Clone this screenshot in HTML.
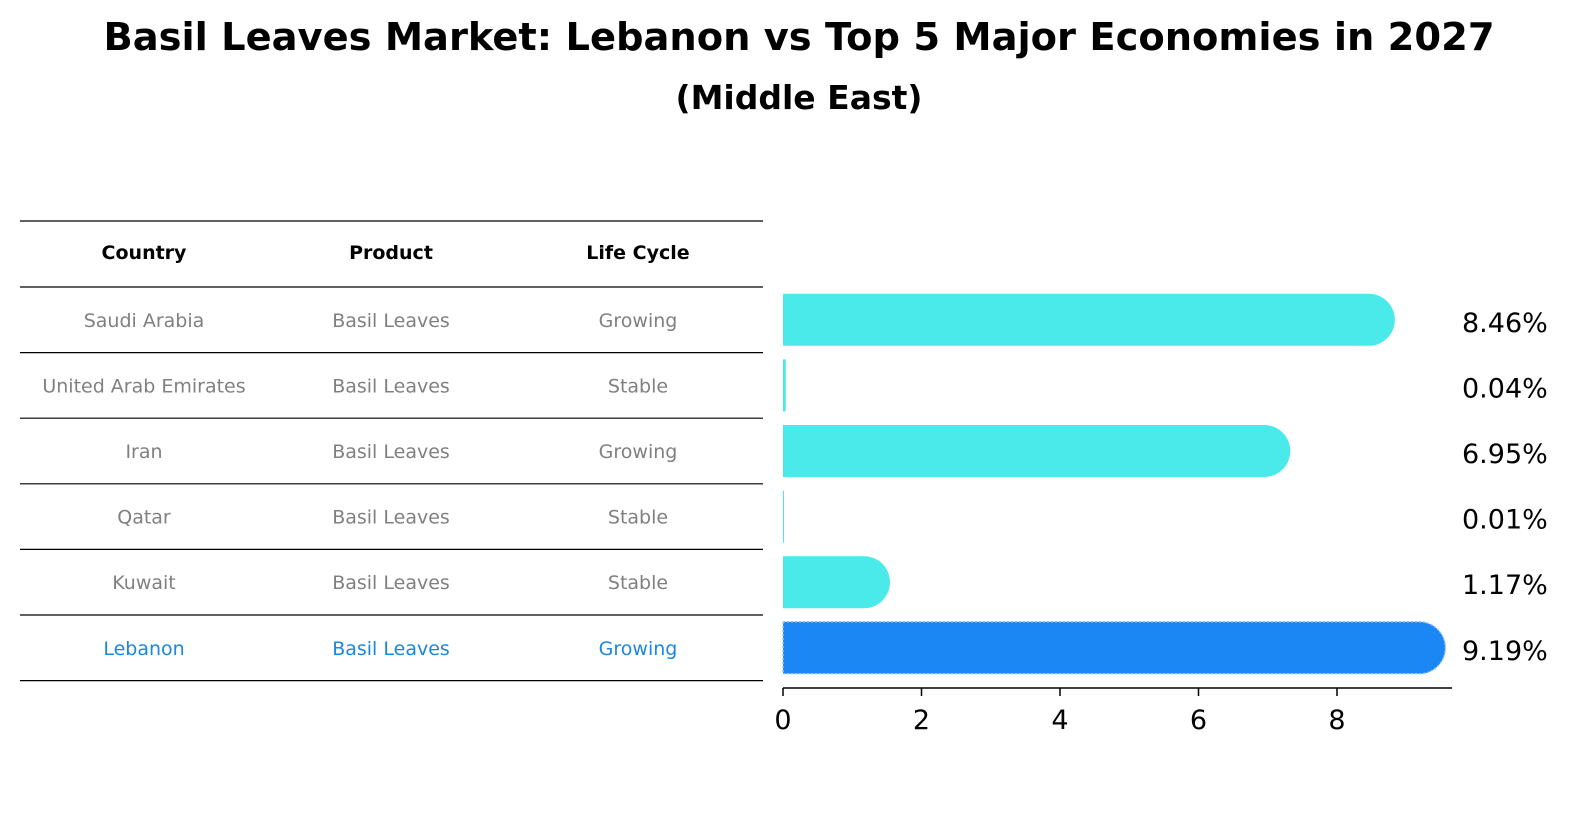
<!DOCTYPE html>
<html><head><meta charset="utf-8"><style>
body{margin:0;background:#fff;font-family:"Liberation Sans","DejaVu Sans",sans-serif;}
#wrap{position:relative;width:1586px;height:823px;overflow:hidden;}
.t{position:absolute;left:0;width:1598px;text-align:center;font-weight:bold;color:#000;}
</style></head><body>
<div id="wrap">
<div class="t" style="top:15px;font-size:38.4px;font-family:'DejaVu Sans',sans-serif;">Basil Leaves Market: Lebanon vs Top 5 Major Economies in 2027</div>
<div class="t" style="top:78px;font-size:33px;font-family:'DejaVu Sans',sans-serif;">(Middle East)</div>
<svg id="svg" width="1586" height="823" style="position:absolute;left:0;top:0"></svg>
</div>
<script>
const countries=["Saudi Arabia","United Arab Emirates","Iran","Qatar","Kuwait","Lebanon"];
const products=["Basil Leaves","Basil Leaves","Basil Leaves","Basil Leaves","Basil Leaves","Basil Leaves"];
const lifeCycles=["Growing","Stable","Growing","Stable","Stable","Growing"];
const values=[8.46,0.04,6.95,0.01,1.17,9.19];
const ticks=[0,2,4,6,8];
const NS="http://www.w3.org/2000/svg";
const svg=document.getElementById('svg');
function mk(tag,attrs,parent){const e=document.createElementNS(NS,tag);for(const k in attrs)e.setAttribute(k,attrs[k]);(parent||svg).appendChild(e);return e;}
const x0=783,ppu=69.25;
const xs=v=>x0+v*ppu;
const rowTop=287,rowH=65.6;
const yc=i=>rowTop+rowH*i+rowH/2;
const font="'DejaVu Sans',sans-serif";
const lineYs=[221,287];
for(let i=1;i<=countries.length;i++)lineYs.push(rowTop+rowH*i);
lineYs.forEach((y,i)=>{const l=mk('line',{x1:20,x2:763,y1:y,y2:y,stroke:'#000','stroke-width':1.2});

});
const colX=[144,391,638];
["Country","Product","Life Cycle"].forEach((h,j)=>{const t=mk('text',{x:colX[j],y:259,'text-anchor':'middle','font-size':19,'font-weight':'bold','font-family':font,fill:'#000'});t.textContent=h;

});
countries.forEach((c,i)=>{
 const col=i===countries.length-1?'#1a87e0':'#808080';
 [c,products[i],lifeCycles[i]].forEach((v,j)=>{const t=mk('text',{x:colX[j],y:yc(i)+7,'text-anchor':'middle','font-size':19,'font-family':font,fill:col});t.textContent=v;
 
 });
 const h=52,r=26,xe=xs(values[i]);const y=yc(i)-h/2;
 const last=i===countries.length-1;
 const fill=last?'#1a87f5':'#4aeaea';
 const w=xe-x0;
 let d;
 if(w>r){d=`M${x0},${y} H${xe} A${r},${r} 0 0 1 ${xe},${y+h} H${x0} Z`;}
 else{d=`M${x0},${y} H${x0+Math.max(w,1)} V${y+h} H${x0} Z`;}
 const p=mk('path',{d:d,fill:fill});
 if(last){p.setAttribute('stroke','#9cc8f0');p.setAttribute('stroke-dasharray','2,2');p.setAttribute('stroke-width','1.5');}
 
 
 const t=mk('text',{x:1462,y:yc(i)+12,'font-size':27,'font-family':font,fill:'#000'});t.textContent=values[i].toFixed(2)+'%';
 
 
});
const ax=mk('line',{x1:x0,x2:1452,y1:688,y2:688,stroke:'#000','stroke-width':1.5});


ticks.forEach(v=>{const l=mk('line',{x1:xs(v),x2:xs(v),y1:688,y2:696,stroke:'#000','stroke-width':1.5});


const t=mk('text',{x:xs(v),y:729,'text-anchor':'middle','font-size':27,'font-family':font,fill:'#000'});t.textContent=v;

});
</script>
</body></html>
